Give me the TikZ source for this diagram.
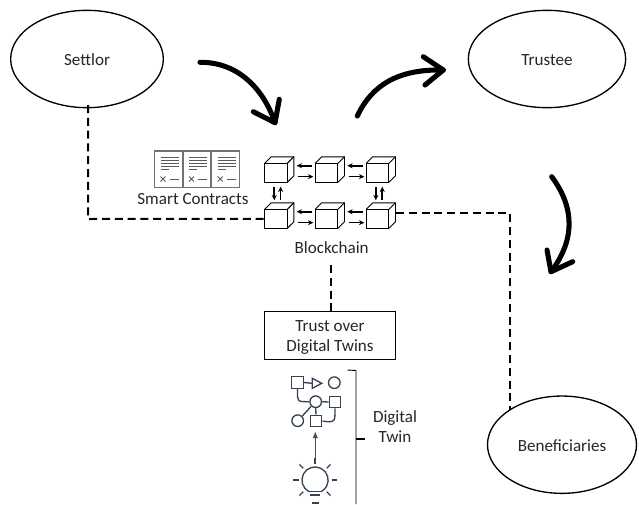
\documentclass[tikz,border=0pt]{standalone}
\usepackage{fontspec}
\setmainfont{Carlito}
\usetikzlibrary{arrows.meta,shapes.geometric,calc}
\definecolor{slate}{HTML}{36424F}
\newcommand{\cubeat}[3]{%
  \node[cubeface] (#1) at (#2+11.3,#3+9.5) {};
  \draw[cubeedge] (#1.north west) -- ++(6.5,-6.5) -- ++(22.7,0) -- ++(0,19) -- (#1.south east);
  \draw[cubeedge] (#1.north east) -- ++(6.5,-6.5);
}
\newcommand{\docat}[2]{%
  \draw[docframe] (#1,#2) rectangle ++(27.7,36.5);
  \foreach \yy/\xe in {6.7/24,9.7/24,12.7/24,15.5/24,18.7/14}
    \draw[docline] (#1+6,#2+\yy) -- (#1+\xe,#2+\yy);
  \draw[docline] (#1+24,#2+28) -- (#1+15.3,#2+28);
  \draw[docline] (#1+6,#2+25.5) -- (#1+11,#2+30.5) (#1+11,#2+25.5) -- (#1+6,#2+30.5);
}
\tikzset{
  x=0.75pt,y=-0.75pt,
  oval/.style={draw=black,line width=1pt,shape=ellipse,inner sep=0pt},
  lab/.style={font=\fontsize{12.8pt}{15pt}\selectfont,align=center,text=black!85},
  cubeface/.style={draw=black,fill=white,line width=0.8pt,minimum width=17pt,minimum height=14.25pt,inner sep=0pt,outer sep=0pt},
  cubeedge/.style={draw=black,line width=0.7pt},
  link/.style={draw=black,line width=1.2pt,-{Stealth[length=4pt,width=3.8pt]}},
  dashline/.style={draw=black,line width=1.5pt,dash pattern=on 6pt off 3.6pt},
  hand/.style={draw=black,line width=3.8pt,line cap=round,line join=round},
  docframe/.style={draw=black!55,line width=1pt,fill=white},
  docline/.style={draw=black!65,line width=0.7pt},
  icon/.style={draw=slate,line width=1pt},
}
\begin{document}
\begin{tikzpicture}
\useasboundingbox (0,0) rectangle (639,504);
\clip (0,0) rectangle (639,504);
\node[oval,minimum width=114.5pt,minimum height=73pt] (settlor) at (87,59) {};
\node[lab] at (87,60) {Settlor};
\node[oval,minimum width=118pt,minimum height=73pt] (trustee) at (547,59) {};
\node[lab] at (547,60) {Trustee};
\node[oval,minimum width=111.75pt,minimum height=73pt] (benef) at (562,444.7) {};
\node[lab] at (562,445.7) {Beneficiaries};
% hand arrows
\draw[hand] (200,62.3) .. controls (235,62) and (262,85) .. (275,122.7);
\draw[hand] (253.3,111.7) -- (275,122.7) -- (279.3,99.3);
\draw[hand] (357.3,116) .. controls (372,85) and (398,69) .. (443.3,70);
\draw[hand] (423.3,56.7) -- (443.3,70) -- (425,85);
\draw[hand] (551.7,176.7) .. controls (575,208) and (575,240) .. (551,271.7);
\draw[hand] (547,250) -- (551,271.7) -- (572.7,261.7);
% contracts
\docat{154.5}{151}
\docat{183}{151}
\docat{211.7}{151}
\node[lab] (sc) at (193,199) {Smart Contracts};
% cubes
\cubeat{a1}{264.7}{163.3}
\cubeat{a2}{315.3}{163.3}
\cubeat{a3}{366.3}{163.3}
\cubeat{b1}{264.7}{209.3}
\cubeat{b2}{315.3}{209.3}
\cubeat{b3}{366.3}{209.3}
\foreach \p/\q in {a1/a2,a2/a3,b1/b2,b2/b3}{
  \draw[link] ([xshift=-2.4pt,yshift=5.3pt]\q.west) -- ([xshift=7pt,yshift=5.3pt]\p.east);
  \draw[link] ([xshift=8pt,yshift=-2.9pt]\p.east) -- ([xshift=-1.5pt,yshift=-2.9pt]\q.west);
}
\foreach \p/\q in {a1/b1,a3/b3}{
  \draw[link] ([xshift=-1.3pt,yshift=-3.3pt]\p.south) -- ([xshift=-1.3pt,yshift=-13.5pt]\p.south);
  \draw[link] ([xshift=3.5pt,yshift=-13.5pt]\p.south) -- ([xshift=3.5pt,yshift=-3.3pt]\p.south);
}
\node[lab] (bc) at (331.7,248) {Blockchain};
% trust box
\node[draw=black,line width=0.7pt,minimum width=98pt,minimum height=35.5pt,inner sep=0pt] (trust) at (329.7,335.3) {};
\node[lab] (trustlab) at (330,337) {Trust over\\Digital Twins};
% dashed
\coordinate (kneea) at (88,219);
\draw[dashline] (88,105) -- (kneea) -- (b1.west);
\coordinate (startb) at (396,212.7);
\coordinate (kneeb) at (509.7,212.7);
\coordinate (endb) at (509.7,410);
\draw[dashline] (startb) -- (kneeb) -- (endb);
\coordinate (bcbot) at (331,265);
\coordinate (trtop) at (331,311.7);
\draw[dashline] (bcbot) -- (trtop);
% digital twin icon
\node[icon,minimum size=8.7pt,inner sep=0pt] (s1) at (297.5,382.5) {};
\node[icon,minimum size=8.7pt,inner sep=0pt] (s2) at (335,402) {};
\node[icon,minimum size=8.7pt,inner sep=0pt] (s3) at (316,421) {};
\node[icon,circle,minimum size=8.7pt,inner sep=0pt] (o1) at (334.3,382.7) {};
\node[icon,circle,minimum size=8.7pt,inner sep=0pt] (o2) at (315.7,401.7) {};
\node[icon,circle,minimum size=8.7pt,inner sep=0pt] (o3) at (297.7,420.7) {};
\draw[icon] (s1.east) -- (312.3,383.3);
\draw[icon] (312.3,378.3) -- (321.7,383.3) -- (312.3,388.3) -- cycle;
\draw[icon] (s1.south) -- (297.5,392) .. controls (297.5,401.7) .. (o2.west);
\draw[icon] (o2.east) -- (s2.west);
\draw[icon] (o2.south west) -- (o3.north east);
\draw[icon] (o2.south) -- (s3.north);
\draw[icon] (s3.east) -- (327,421.7) .. controls (335,421.7) .. (s2.south);
\coordinate (bulbtop) at (315.3,463);
\coordinate (arrtip) at (315.3,431.5);
\draw[black!70,line width=0.5pt,-{Latex[length=5pt,width=4pt]}] (bulbtop) -- (arrtip);
% bulb
\coordinate (bulb) at (315,480);
\draw[icon] (308.9,491.6) arc[start angle=118,end angle=422,radius=13.1];
\draw[icon] (308.5,491.8) -- (321.5,491.8);
\draw[icon] (310,495) -- (320,495);
\draw[icon,line width=1.5pt] (311.5,502.5) -- (318.5,502.5);
\foreach \a in {0,45,135,180,225,270,315}
  \draw[icon] (bulb) ++(\a:16.5) -- ++(\a:5.5);
% bracket
\coordinate (brT) at (347.5,370);
\coordinate (brC) at (356,370.5);
\coordinate (brB) at (356,504);
\draw[draw=black,line width=0.7pt] (brT) -- (brC) -- (brB);
\coordinate (brM) at (356,439);
\coordinate (brE) at (365,439);
\draw[draw=black,line width=0.9pt] (brM) -- (brE);
\node[lab] (dt) at (395,427) {Digital\\Twin};
\end{tikzpicture}
\end{document}
